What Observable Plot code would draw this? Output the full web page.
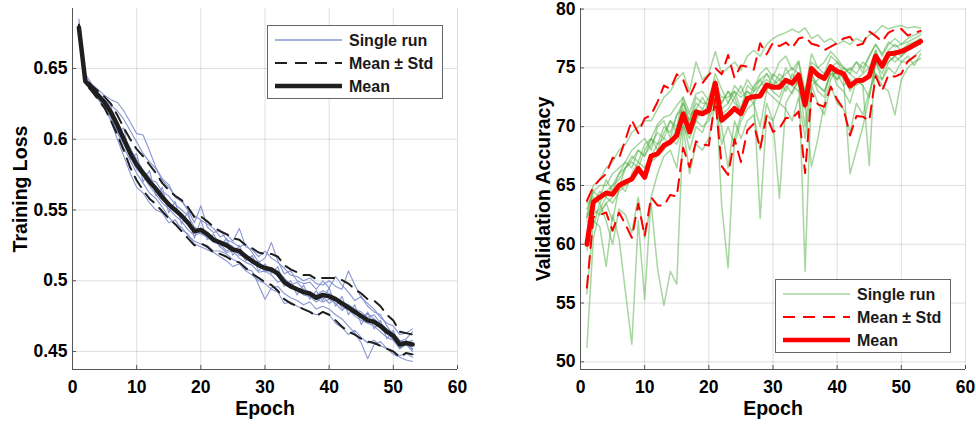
<!DOCTYPE html>
<html><head><meta charset="utf-8">
<script src="https://cdn.jsdelivr.net/npm/d3@7"></script>
<script src="https://cdn.jsdelivr.net/npm/@observablehq/plot@0.6"></script>
<style>
body{margin:0;background:#fff;}
#fig{position:relative;width:976px;height:425px;font-family:"Liberation Sans",Arial,Helvetica,sans-serif;}
.panel{position:absolute;top:0;}
.legend{position:absolute;background:#fff;border:1px solid #666;box-sizing:border-box;}
.legend svg{display:block;}
</style></head><body><div id="fig"></div>
<script>
const epochs = [1,2,3,4,5,6,7,8,9,10,11,12,13,14,15,16,17,18,19,20,21,22,23,24,25,26,27,28,29,30,31,32,33,34,35,36,37,38,39,40,41,42,43,44,45,46,47,48,49,50,51,52,53];
const xTicks = [0,10,20,30,40,50,60];
const lossTicks = [0.45,0.5,0.55,0.6,0.65];
const accTicks = [50,55,60,65,70,75,80];
const legendLabels = ["Single run","Mean \u00b1 Std","Mean"];

// Training loss
const lossMean = [0.679,0.641,0.636,0.631,0.626,0.619,0.610,0.600,0.590,0.582,0.576,0.570,0.565,0.559,0.554,0.550,0.546,0.541,0.535,0.536,0.533,0.529,0.527,0.525,0.522,0.521,0.517,0.514,0.511,0.509,0.508,0.505,0.499,0.496,0.494,0.492,0.491,0.488,0.490,0.489,0.487,0.484,0.481,0.478,0.475,0.472,0.471,0.468,0.464,0.461,0.455,0.456,0.455];
const lossStd = [0.002,0.002,0.002,0.003,0.004,0.006,0.007,0.008,0.010,0.011,0.012,0.012,0.011,0.010,0.010,0.010,0.011,0.011,0.010,0.0095,0.009,0.009,0.008,0.008,0.008,0.008,0.008,0.009,0.009,0.010,0.011,0.012,0.012,0.012,0.012,0.012,0.013,0.013,0.012,0.013,0.015,0.0165,0.017,0.016,0.016,0.015,0.015,0.014,0.012,0.011,0.009,0.007,0.007];
const lossRun1 = [0.685,0.644,0.638,0.633,0.628,0.624,0.620,0.614,0.606,0.598,0.590,0.584,0.579,0.571,0.566,0.560,0.557,0.550,0.546,0.543,0.540,0.537,0.531,0.533,0.528,0.537,0.524,0.522,0.517,0.521,0.516,0.513,0.509,0.504,0.503,0.500,0.502,0.498,0.497,0.500,0.496,0.494,0.507,0.497,0.488,0.484,0.480,0.474,0.470,0.468,0.462,0.463,0.466];
const lossRun2 = [0.676,0.640,0.635,0.629,0.622,0.613,0.600,0.588,0.576,0.566,0.562,0.555,0.550,0.548,0.541,0.543,0.536,0.533,0.526,0.524,0.522,0.520,0.517,0.514,0.510,0.512,0.507,0.504,0.500,0.498,0.494,0.492,0.484,0.485,0.482,0.480,0.478,0.476,0.478,0.476,0.470,0.467,0.462,0.465,0.460,0.456,0.458,0.454,0.452,0.450,0.447,0.449,0.446];
const lossRun3 = [0.680,0.642,0.637,0.632,0.627,0.623,0.605,0.608,0.586,0.590,0.570,0.578,0.560,0.566,0.548,0.556,0.540,0.549,0.530,0.543,0.529,0.533,0.524,0.530,0.518,0.525,0.514,0.518,0.507,0.512,0.505,0.510,0.496,0.500,0.490,0.497,0.487,0.493,0.486,0.495,0.482,0.489,0.476,0.483,0.469,0.478,0.466,0.472,0.459,0.465,0.452,0.458,0.451];
const lossRun4 = [0.682,0.646,0.639,0.635,0.631,0.628,0.626,0.620,0.612,0.604,0.603,0.592,0.580,0.572,0.568,0.559,0.556,0.550,0.541,0.553,0.538,0.534,0.536,0.529,0.527,0.524,0.526,0.520,0.513,0.516,0.527,0.514,0.505,0.507,0.500,0.498,0.499,0.494,0.500,0.495,0.503,0.497,0.492,0.486,0.489,0.482,0.478,0.476,0.468,0.462,0.457,0.459,0.464];
const lossRun5 = [0.678,0.640,0.634,0.628,0.623,0.615,0.605,0.594,0.585,0.576,0.569,0.562,0.558,0.552,0.545,0.540,0.538,0.532,0.528,0.526,0.525,0.521,0.521,0.519,0.515,0.513,0.508,0.507,0.497,0.487,0.495,0.496,0.491,0.488,0.486,0.483,0.485,0.480,0.482,0.480,0.476,0.473,0.468,0.463,0.456,0.445,0.455,0.457,0.452,0.448,0.446,0.444,0.443];
const lossRun6 = [0.677,0.642,0.636,0.631,0.626,0.618,0.611,0.600,0.593,0.586,0.578,0.571,0.570,0.563,0.560,0.554,0.550,0.546,0.538,0.535,0.533,0.528,0.528,0.527,0.524,0.521,0.519,0.515,0.512,0.506,0.509,0.503,0.500,0.496,0.495,0.490,0.489,0.485,0.489,0.484,0.487,0.481,0.480,0.475,0.472,0.470,0.468,0.464,0.460,0.458,0.453,0.455,0.452];
const lossRun7 = [0.681,0.641,0.637,0.630,0.625,0.620,0.612,0.602,0.594,0.583,0.578,0.573,0.566,0.562,0.553,0.551,0.547,0.540,0.537,0.533,0.531,0.527,0.526,0.521,0.523,0.518,0.517,0.512,0.514,0.508,0.506,0.507,0.502,0.497,0.499,0.494,0.492,0.490,0.493,0.491,0.488,0.485,0.483,0.480,0.478,0.474,0.476,0.470,0.466,0.463,0.458,0.456,0.458];
const lossRun8 = [0.679,0.643,0.636,0.632,0.626,0.617,0.606,0.597,0.588,0.579,0.574,0.567,0.561,0.555,0.551,0.546,0.542,0.536,0.532,0.534,0.532,0.530,0.524,0.520,0.521,0.516,0.513,0.511,0.506,0.507,0.504,0.499,0.501,0.498,0.493,0.493,0.490,0.487,0.485,0.487,0.484,0.479,0.483,0.478,0.474,0.477,0.473,0.469,0.464,0.458,0.452,0.455,0.450];
const lossRuns = [lossRun1,lossRun2,lossRun3,lossRun4,lossRun5,lossRun6,lossRun7,lossRun8];

// Validation accuracy
const accMean = [60.0,63.6,64.0,64.35,64.25,65.0,65.3,65.55,66.45,65.7,67.5,67.7,68.4,68.7,69.25,71.1,69.55,71.25,71.1,71.4,73.7,70.55,71.0,71.55,71.1,72.4,72.55,72.6,73.55,73.35,73.35,73.95,73.7,74.4,71.85,74.95,74.4,74.1,75.1,74.7,74.5,73.45,73.9,73.95,74.3,76.0,75.15,76.2,76.25,76.4,76.65,76.95,77.25];
const accStd = [3.7,1.3,1.5,1.65,3.1,2.3,3.6,5.0,3.0,5.0,3.5,4.4,5.1,4.5,5.2,2.9,3.0,2.5,2.6,3.0,1.3,3.9,5.1,2.6,4.1,2.7,2.3,4.5,2.6,3.8,3.5,3.2,3.0,3.1,5.8,2.1,2.5,2.4,1.7,2.4,3.0,4.2,3.0,3.1,3.8,1.7,2.1,1.8,2.0,1.9,1.1,1.0,0.9];
const accRun1 = [51.2,60.5,62.8,63.5,62.0,64.8,66.5,67.2,68.0,67.5,69.0,70.2,70.8,71.0,71.8,72.5,71.2,72.8,73.0,72.2,74.5,73.2,72.0,73.5,72.8,74.0,73.2,74.5,75.0,74.2,75.5,76.0,74.8,75.6,73.0,76.2,75.0,75.5,76.4,75.8,75.0,74.8,75.5,74.6,76.0,77.0,76.2,77.2,76.8,77.0,77.2,77.5,77.8];
const accRun2 = [55.8,62.0,61.5,58.1,62.5,60.5,56.0,51.5,62.0,55.3,64.0,66.0,67.5,68.0,66.5,70.5,68.0,70.0,69.5,71.0,72.5,68.5,70.0,68.5,70.5,71.5,72.0,70.0,73.0,72.5,72.0,73.5,72.8,74.0,70.0,74.5,73.0,72.5,75.0,73.5,73.0,72.0,74.0,73.5,72.5,75.5,74.5,76.0,75.5,76.0,76.5,76.8,77.0];
const accRun3 = [62.0,61.5,63.5,62.0,60.0,63.0,62.5,61.0,64.0,60.5,63.5,58.0,54.8,57.7,56.6,70.0,66.0,68.5,68.0,69.0,72.0,70.0,66.5,70.5,69.0,70.5,71.0,68.0,72.0,70.5,72.0,71.5,70.5,72.5,69.0,73.5,72.0,71.0,73.5,72.0,71.5,69.5,72.0,71.0,73.0,74.5,74.0,75.0,74.5,75.5,75.5,76.0,76.5];
const accRun4 = [62.5,65.0,65.5,66.5,67.0,68.0,68.5,69.5,70.0,70.5,70.5,71.5,72.5,73.0,74.0,74.6,73.0,75.5,74.0,74.5,76.4,74.5,75.0,75.5,74.8,76.0,76.5,76.0,77.0,77.5,77.8,78.0,78.3,78.0,78.4,77.5,77.8,77.2,77.5,77.0,77.3,77.0,77.5,77.2,77.8,78.0,78.6,78.3,78.5,78.6,78.4,78.5,78.4];
const accRun5 = [63.0,64.5,64.0,65.5,64.5,66.0,66.5,67.5,67.0,68.5,69.0,68.5,70.0,69.5,71.0,72.0,70.5,72.0,71.5,72.5,74.0,63.3,58.0,69.0,71.0,72.0,73.0,73.5,74.5,74.0,73.5,75.0,74.0,75.5,72.5,75.5,75.0,74.5,76.0,75.5,75.0,74.5,75.5,75.0,76.0,77.0,76.0,77.0,77.5,77.0,77.5,77.8,78.0];
const accRun6 = [63.5,64.0,63.5,64.5,65.0,66.0,67.0,66.5,68.0,67.5,68.5,69.5,69.0,70.5,70.0,72.5,70.0,71.5,72.5,71.5,73.5,72.0,73.0,72.0,71.5,73.0,72.5,62.2,71.0,70.5,63.9,72.0,73.0,74.0,72.5,74.5,73.5,73.0,74.5,74.0,74.5,73.0,74.0,74.5,75.0,76.5,75.0,76.5,77.0,76.5,77.0,77.2,77.5];
const accRun7 = [62.2,64.5,65.0,65.0,66.0,66.5,67.0,68.0,68.5,69.0,68.0,70.0,70.5,69.0,71.0,71.5,70.5,72.5,72.0,72.0,73.5,72.5,72.5,73.0,71.5,73.5,73.0,74.0,74.5,73.5,74.0,74.5,75.0,74.5,57.7,73.5,74.0,74.5,75.0,74.0,75.0,74.5,74.0,73.5,66.7,76.5,75.0,76.0,76.5,76.0,76.5,77.0,77.2];
const accRun8 = [62.3,63.5,64.5,64.0,65.0,65.5,66.5,67.0,66.5,68.0,69.0,68.0,69.5,70.5,69.5,72.0,71.0,71.5,71.0,72.0,73.0,72.0,73.0,72.5,73.5,72.0,73.5,74.0,73.0,74.5,74.0,73.0,74.5,73.5,72.0,66.6,69.0,72.0,74.0,75.0,74.0,66.0,68.0,70.0,72.5,75.5,74.0,75.5,76.0,76.5,76.8,77.0,77.0];
const accRun9 = [61.0,63.0,62.5,63.5,64.0,65.0,64.5,66.0,67.0,66.5,67.5,68.5,69.0,68.5,70.0,71.0,69.5,70.5,71.5,71.0,72.5,71.5,72.0,73.0,72.5,73.0,72.5,73.5,74.0,73.5,74.5,74.0,73.5,74.5,73.0,75.0,74.5,74.0,75.0,75.5,74.5,75.0,74.5,75.5,75.0,74.5,73.5,73.0,71.0,74.0,75.0,75.5,75.8];
const accRun10 = [59.5,62.5,63.0,64.0,63.5,64.5,65.0,65.5,66.5,66.0,67.0,67.5,68.0,69.0,68.5,70.0,69.0,70.5,70.0,70.5,72.0,71.0,71.5,72.5,71.0,72.5,72.0,73.0,73.5,73.0,72.5,74.0,73.5,73.0,71.5,74.0,73.5,73.0,74.5,74.5,73.5,74.0,73.5,74.0,74.5,75.5,75.0,75.5,76.0,75.5,76.0,75.2,76.2];
const accRuns = [accRun1,accRun2,accRun3,accRun4,accRun5,accRun6,accRun7,accRun8,accRun9,accRun10];

function runRows(runs){
  const rows=[];
  runs.forEach((r,k)=>r.forEach((v,i)=>rows.push({epoch:epochs[i],value:v,run:k})));
  return rows;
}
function bandRows(mean,std,sign){
  return mean.map((m,i)=>({epoch:epochs[i],value:m+sign*std[i]}));
}
function meanRows(mean){ return mean.map((m,i)=>({epoch:epochs[i],value:m})); }

const FONT = '"Liberation Sans", Arial, Helvetica, sans-serif';
const AX = "#555";

function panel(cfg){
  return Plot.plot({
    width:488, height:425,
    marginLeft:cfg.ml, marginRight:cfg.mr, marginTop:8, marginBottom:56,
    x:{domain:[0,60], label:null},
    y:{domain:cfg.ydom, label:null},
    style:{fontFamily:FONT, fontSize:"17.5px", fontWeight:"bold", color:"#000", background:"transparent", overflow:"visible"},
    marks:[
      Plot.gridX(xTicks.slice(1), {stroke:"#000", strokeOpacity:0.13}),
      Plot.gridY(cfg.ticks, {stroke:"#000", strokeOpacity:0.13}),
      Plot.line(runRows(cfg.runs), {x:"epoch", y:"value", z:"run", stroke:cfg.runColor, strokeOpacity:cfg.runOpacity, strokeWidth:cfg.runWidth}),
      Plot.line(bandRows(cfg.mean,cfg.std,1), {x:"epoch", y:"value", stroke:cfg.meanColor, strokeWidth:2, strokeDasharray:"12,8"}),
      Plot.line(bandRows(cfg.mean,cfg.std,-1), {x:"epoch", y:"value", stroke:cfg.meanColor, strokeWidth:2, strokeDasharray:"12,8"}),
      Plot.line(meanRows(cfg.mean), {x:"epoch", y:"value", stroke:cfg.meanColor, strokeWidth:cfg.meanWidth, strokeLinejoin:"round"}),
      Plot.ruleX([0], {stroke:AX, strokeWidth:1}),
      Plot.ruleY([cfg.ydom[0]], {stroke:AX, strokeWidth:1}),
      Plot.axisX(xTicks, {tickSize:-4, tickPadding:15, stroke:AX, tickFormat:d=>String(d), label:null, fill:"#000"}),
      Plot.axisY(cfg.ticks, {tickSize:-4, tickPadding:9, stroke:AX, tickFormat:d=>String(d), label:null, fill:"#000"}),
      Plot.text(["Epoch"], {frameAnchor:"bottom", dy:45, textAnchor:"middle", lineAnchor:"bottom", fontSize:19.5, fontWeight:"bold", fill:"#000"}),
      Plot.text([cfg.ylabel], {frameAnchor:"left", dx:cfg.ylabelDx, rotate:-90, textAnchor:"middle", lineAnchor:"bottom", fontSize:19.5, fontWeight:"bold", fill:"#000"})
    ]
  });
}

const fig = document.getElementById("fig");
const p1 = panel({ml:72, mr:31, ydom:[0.4373,0.6924], ticks:lossTicks, runs:lossRuns, runColor:"#8290cf", runOpacity:0.95, runWidth:1.1,
  mean:lossMean, std:lossStd, meanColor:"#1f1f1f", meanWidth:4.5, ylabel:"Training Loss", ylabelDx:-46});
const p2 = panel({ml:92, mr:11, ydom:[49.35,80.05], ticks:accTicks, runs:accRuns, runColor:"#4fae42", runOpacity:0.5, runWidth:1.5,
  mean:accMean, std:accStd, meanColor:"#ff0000", meanWidth:5, ylabel:"Validation Accuracy", ylabelDx:-31});
p1.classList.add("panel"); p1.style.left="0px";
p2.classList.add("panel"); p2.style.left="488px";
fig.appendChild(p1); fig.appendChild(p2);

function legend(left, top, runColor, runOpacity, meanColor){
  const div = document.createElement("div");
  div.className="legend";
  div.style.left=left+"px"; div.style.top=top+"px"; div.style.width="176px"; div.style.height="74px";
  const ns="http://www.w3.org/2000/svg";
  const svg=document.createElementNS(ns,"svg");
  svg.setAttribute("width","174"); svg.setAttribute("height","72");
  const rows=[14,37,60];
  const styles=[
    {stroke:runColor, w:1.5, op:runOpacity, dash:null},
    {stroke:meanColor, w:2, op:1, dash:"12,8"},
    {stroke:meanColor, w:4.5, op:1, dash:null}
  ];
  legendLabels.forEach((lab,i)=>{
    const l=document.createElementNS(ns,"line");
    l.setAttribute("x1",7); l.setAttribute("x2",74); l.setAttribute("y1",rows[i]); l.setAttribute("y2",rows[i]);
    l.setAttribute("stroke",styles[i].stroke); l.setAttribute("stroke-width",styles[i].w); l.setAttribute("stroke-opacity",styles[i].op);
    if(styles[i].dash) l.setAttribute("stroke-dasharray",styles[i].dash);
    svg.appendChild(l);
    const t=document.createElementNS(ns,"text");
    t.setAttribute("x",81); t.setAttribute("y",rows[i]+6);
    t.setAttribute("font-family",FONT); t.setAttribute("font-size","16"); t.setAttribute("font-weight","bold"); t.setAttribute("fill","#1a1a1a");
    t.textContent=lab;
    svg.appendChild(t);
  });
  div.appendChild(svg);
  fig.appendChild(div);
}
legend(267,25,"#8290cf",0.95,"#1f1f1f");
legend(775,279,"#4fae42",0.5,"#ff0000");
</script>
</body></html>
